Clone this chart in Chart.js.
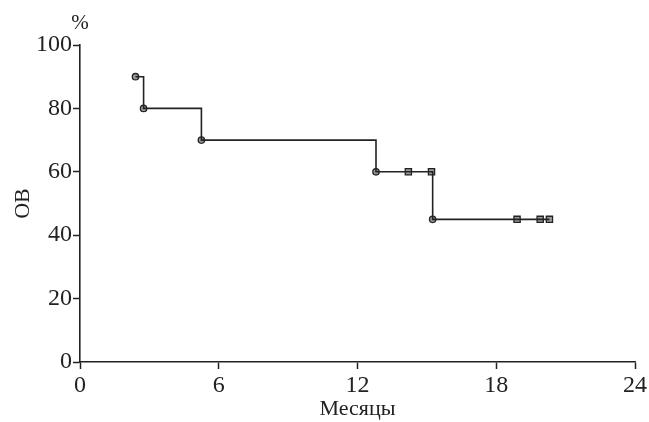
<!DOCTYPE html>
<html lang="ru">
<head>
<meta charset="utf-8">
<title>OS</title>
<script src="https://cdn.jsdelivr.net/npm/chart.js@4/dist/chart.umd.min.js"></script>
<style>
  body { margin: 0; background: #fff; overflow: hidden; }
  #wrap { width: 649px; height: 422px; }
</style>
</head>
<body>
<div id="wrap"><canvas id="chart-0"></canvas></div>
<script>
// step curve (months, %)
var stepMonths = [2.4, 2.75, 5.25, 12.8, 15.25, 20.3];
var stepOS = [90, 80, 70, 60, 45, 45];
// events (circles)
var eventMonths = [2.4, 2.75, 5.25, 12.8, 15.25];
var eventOS = [90, 80, 70, 60, 45];
// censored (squares)
var censMonths = [14.2, 15.2, 18.9, 19.9, 20.3];
var censOS = [60, 60, 45, 45, 45];
var xTicks = [0, 6, 12, 18, 24];
var yTicks = [0, 20, 40, 60, 80, 100];

function pts(xs, ys) {
    var out = [];
    for (var i = 0; i < xs.length; i++) out.push({x: xs[i], y: ys[i]});
    return out;
}

var ink = '#222';
var serif = '"Liberation Serif", "DejaVu Serif", serif';

var percentLabel = {
    id: 'percentLabel',
    afterDraw: function(chart) {
        var ctx = chart.ctx;
        var y = chart.scales.y;
        ctx.save();
        ctx.font = '21px ' + serif;
        ctx.fillStyle = ink;
        ctx.textAlign = 'center';
        ctx.textBaseline = 'middle';
        ctx.fillText('%', y.right + 0, chart.chartArea.top - 22);
        ctx.restore();
    }
};

new Chart('chart-0', {
    type: 'scatter',
    data: {
        datasets: [{
            type: 'line',
            data: pts(stepMonths, stepOS),
            stepped: 'before',
            borderColor: ink,
            borderWidth: 1.6,
            pointRadius: 0,
            fill: false
        }, {
            data: pts(eventMonths, eventOS),
            pointStyle: 'circle',
            pointRadius: 3.2,
            backgroundColor: '#9a9a9a',
            borderColor: ink,
            borderWidth: 1.3
        }, {
            data: pts(censMonths, censOS),
            pointStyle: 'rect',
            pointRadius: 4.4,
            backgroundColor: '#9a9a9a',
            borderColor: ink,
            borderWidth: 1.3
        }]
    },
    plugins: [percentLabel],
    options: {
        responsive: true,
        maintainAspectRatio: false,
        animation: false,
        layout: { padding: { top: 45, right: 14, left: 0, bottom: 0 } },
        plugins: { legend: { display: false }, tooltip: { enabled: false } },
        scales: {
            x: {
                type: 'linear',
                min: 0, max: 24,
                afterBuildTicks: function(s) { s.ticks = xTicks.map(function(v) { return {value: v}; }); },
                afterFit: function(s) { s.height = 60; },
                grid: { drawOnChartArea: false, drawTicks: true, tickLength: 7, tickColor: ink, tickWidth: 1.5 },
                border: { color: ink, width: 1.6 },
                ticks: { color: ink, font: { family: serif, size: 24 }, padding: 2, maxRotation: 0 },
                title: { display: true, text: 'Месяцы', color: ink, font: { family: serif, size: 22 }, padding: { top: -6, bottom: 0 } }
            },
            y: {
                min: 0, max: 100,
                afterBuildTicks: function(s) { s.ticks = yTicks.map(function(v) { return {value: v}; }); },
                afterFit: function(s) { s.width = 80; },
                grid: { drawOnChartArea: false, drawTicks: true, tickLength: 7, tickColor: ink, tickWidth: 1.5 },
                border: { color: ink, width: 1.6 },
                ticks: { color: ink, font: { family: serif, size: 24 }, padding: 1 },
                title: { display: true, text: 'ОВ', color: ink, font: { family: serif, size: 22 }, padding: { top: 10, bottom: 0 } }
            }
        }
    }
});
</script>
</body>
</html>
